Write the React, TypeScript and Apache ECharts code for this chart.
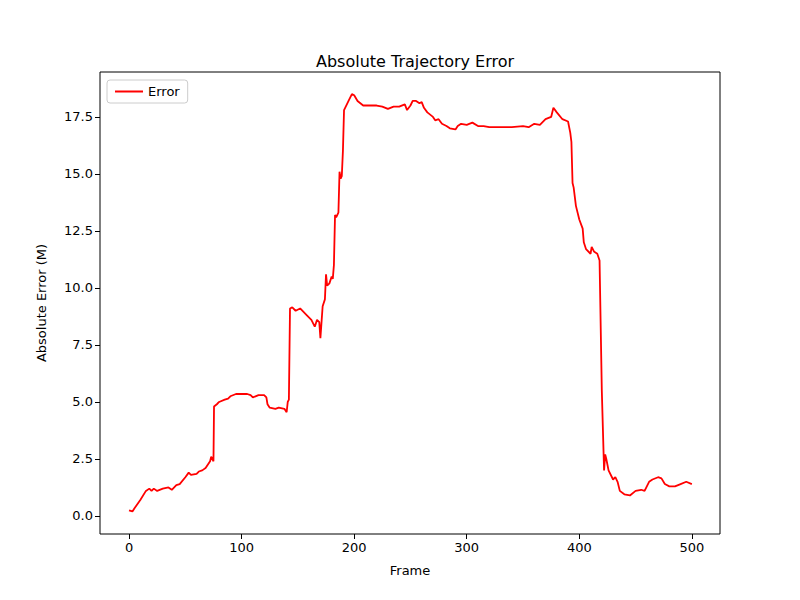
import React, { useEffect, useRef } from "react";
import * as echarts from "echarts";

const frames = [0, 3, 5, 10, 15, 18, 20, 22, 25, 30, 35, 38, 42, 45, 50, 53, 55, 60, 62, 65, 68, 72, 73, 75, 75.5, 78, 80, 85, 88, 90, 95, 100, 105, 108, 110, 115, 120, 122, 123, 125, 130, 133, 138, 140, 141, 142, 143, 145, 148, 152, 158, 162, 165, 167, 169, 170, 171, 172, 174, 175, 176, 178, 180, 181, 182, 183, 184, 186, 187, 188, 189, 190, 191, 195, 198, 200, 203, 208, 215, 220, 225, 230, 235, 240, 245, 247, 250, 252, 255, 258, 260, 262, 265, 270, 272, 275, 278, 282, 285, 290, 292, 295, 300, 305, 310, 315, 320, 330, 340, 350, 355, 360, 365, 370, 375, 377, 380, 385, 390, 392, 393, 394, 395, 397, 400, 403, 404, 406, 410, 411, 413, 416, 418, 420, 422, 423, 424, 426, 430, 432, 434, 436, 440, 445, 450, 455, 458, 462, 465, 470, 473, 476, 480, 485, 490, 495, 500];
const errors = [0.25, 0.2, 0.35, 0.7, 1.1, 1.2, 1.1, 1.2, 1.1, 1.2, 1.25, 1.15, 1.35, 1.4, 1.7, 1.9, 1.8, 1.85, 1.95, 2.0, 2.1, 2.4, 2.6, 2.4, 4.8, 4.9, 5.0, 5.1, 5.15, 5.25, 5.35, 5.35, 5.35, 5.3, 5.2, 5.3, 5.3, 5.2, 4.9, 4.75, 4.7, 4.75, 4.7, 4.55, 5.0, 5.1, 9.1, 9.15, 9.0, 9.1, 8.8, 8.6, 8.3, 8.6, 8.5, 7.8, 8.5, 9.2, 9.5, 10.6, 10.1, 10.2, 10.5, 10.4, 11.0, 13.2, 13.1, 13.3, 15.1, 14.8, 14.9, 16.0, 17.8, 18.2, 18.5, 18.45, 18.2, 18.0, 18.0, 18.0, 17.95, 17.85, 17.95, 17.95, 18.05, 17.8, 18.0, 18.2, 18.2, 18.1, 18.15, 17.9, 17.7, 17.5, 17.35, 17.4, 17.2, 17.1, 17.0, 16.95, 17.1, 17.2, 17.15, 17.25, 17.1, 17.1, 17.05, 17.05, 17.05, 17.1, 17.05, 17.2, 17.15, 17.4, 17.5, 17.9, 17.7, 17.4, 17.3, 16.8, 16.4, 14.6, 14.4, 13.6, 13.0, 12.6, 12.0, 11.7, 11.5, 11.8, 11.6, 11.5, 11.2, 5.5, 2.0, 2.7, 2.5, 2.0, 1.6, 1.7, 1.5, 1.1, 0.95, 0.9, 1.1, 1.15, 1.1, 1.5, 1.6, 1.7, 1.65, 1.4, 1.3, 1.3, 1.4, 1.5, 1.4];
const xTicks = [0, 100, 200, 300, 400, 500];
const yTicks = [0, 2.5, 5, 7.5, 10, 12.5, 15, 17.5];

const font = "DejaVu Sans";

export default function App() {
  const chartRef = useRef<HTMLDivElement | null>(null);

  useEffect(() => {
    const myChart = echarts.init(chartRef.current as HTMLDivElement, null, { renderer: "svg" });
    const axisCommon = {
      axisLine: { show: false, onZero: false },
      splitLine: { show: false },
      axisTick: { show: true, length: 5, lineStyle: { color: "#000" } },
      axisLabel: { color: "#000", fontSize: 13, fontFamily: font, margin: 7 },
      nameTextStyle: { color: "#000", fontSize: 13, fontFamily: font },
    };
    myChart.setOption({
      animation: false,
      backgroundColor: "#fff",
      title: {
        text: "Absolute Trajectory Error",
        left: 402,
        top: 40,
        textAlign: "center",
        textStyle: { fontSize: 16, fontWeight: "normal", color: "#000", fontFamily: font },
      },
      legend: {
        left: 99,
        top: 72,
        orient: "vertical",
        backgroundColor: "#fff",
        borderColor: "#ccc",
        borderWidth: 1,
        borderRadius: 3,
        padding: [5, 8],
        itemWidth: 28,
        itemHeight: 2,
        textStyle: { fontSize: 13, fontFamily: font, color: "#000" },
        data: [{ name: "Error", icon: "rect" }],
      },
      grid: { left: 92, right: 72, top: 64, bottom: 58, show: true, borderColor: "#000", borderWidth: 1, backgroundColor: "transparent" },
      xAxis: {
        ...axisCommon,
        type: "value",
        min: -25.8,
        max: 525,
        name: "Frame",
        nameLocation: "middle",
        nameGap: 30,
        axisTick: { ...axisCommon.axisTick, customValues: xTicks },
        axisLabel: { ...axisCommon.axisLabel, customValues: xTicks },
      },
      yAxis: {
        ...axisCommon,
        type: "value",
        min: -0.79,
        max: 19.47,
        name: "Absolute Error (M)",
        nameLocation: "middle",
        nameGap: 52,
        axisTick: { ...axisCommon.axisTick, customValues: yTicks },
        axisLabel: { ...axisCommon.axisLabel, customValues: yTicks, formatter: (v: number) => v.toFixed(1) },
      },
      series: [
        {
          name: "Error",
          type: "line",
          showSymbol: false,
          color: "#ff0000",
          lineStyle: { width: 1.8, color: "#ff0000" },
          data: frames.map((f, i) => [f, errors[i]]),
        },
      ],
    });
    return () => myChart.dispose();
  }, []);

  return <div ref={chartRef} style={{ width: "784px", height: "584px" }} />;
}
